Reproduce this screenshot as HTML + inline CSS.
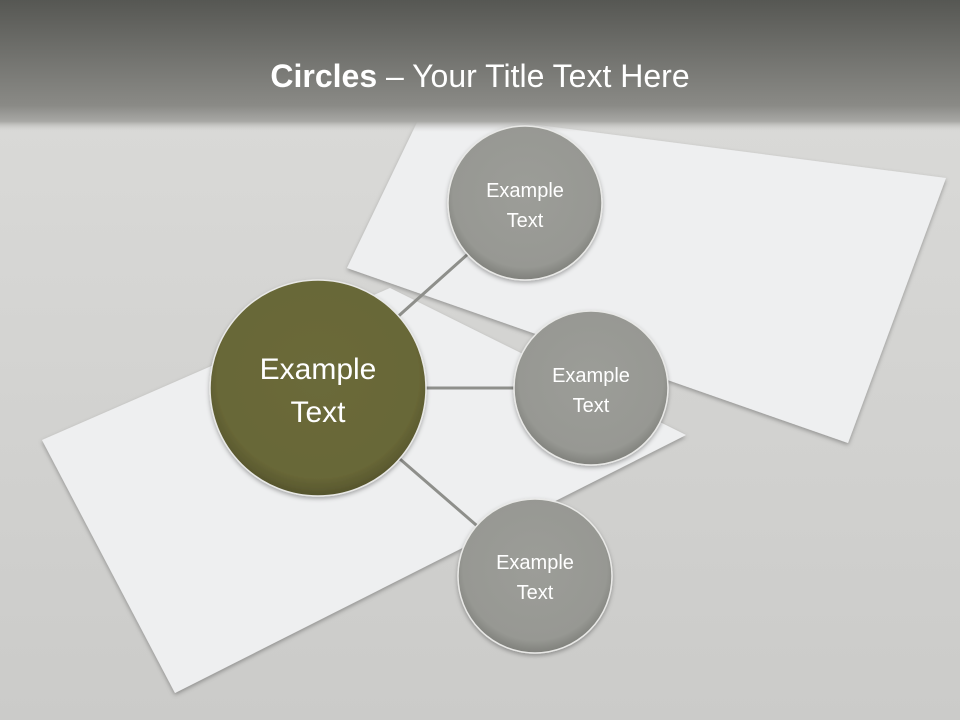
<!DOCTYPE html>
<html><head><meta charset="utf-8"><style>
html,body{margin:0;padding:0;width:960px;height:720px;overflow:hidden}
body{background:linear-gradient(#dcdcda,#cbcbc9);font-family:"Liberation Sans",sans-serif}
</style></head><body>
<svg width="960" height="720" xmlns="http://www.w3.org/2000/svg" style="position:absolute;left:0;top:0">
<defs>
<linearGradient id="hdr" x1="0" y1="0" x2="0" y2="1">
<stop offset="0" stop-color="#565753"/><stop offset="0.8" stop-color="#8a8a86"/><stop offset="0.92" stop-color="#a8a8a5"/><stop offset="1" stop-color="#d6d6d4" stop-opacity="0"/>
</linearGradient>
<radialGradient id="gr" cx="0.5" cy="0.45" r="0.55">
<stop offset="0" stop-color="#9c9d98"/><stop offset="0.85" stop-color="#979893"/><stop offset="1" stop-color="#7f807b"/>
</radialGradient>
<radialGradient id="ol" cx="0.5" cy="0.45" r="0.55">
<stop offset="0" stop-color="#6b6a3a"/><stop offset="0.85" stop-color="#686737"/><stop offset="1" stop-color="#55542c"/>
</radialGradient>
<filter id="sh" x="-20%" y="-20%" width="140%" height="140%"><feDropShadow dx="0" dy="2" stdDeviation="2" flood-color="#000" flood-opacity="0.3"/></filter>
</defs>
<polygon points="423,110 946,178 848,443 347,268" fill="#eeeff0" filter="url(#sh)"/>
<polygon points="42,440 390,288 686,435 175,693" fill="#eeeff0" filter="url(#sh)"/>
<rect x="0" y="0" width="960" height="132" fill="url(#hdr)"/>
<g stroke="#8e8f8b" stroke-width="3">
<line x1="318" y1="388" x2="525" y2="203"/>
<line x1="318" y1="388" x2="591" y2="388"/>
<line x1="318" y1="388" x2="535" y2="576"/>
</g>
<g stroke="#e8e8e6" stroke-width="1.5" filter="url(#sh)">
<circle cx="318" cy="388" r="108" fill="url(#ol)"/>
<circle cx="525" cy="203" r="77" fill="url(#gr)"/>
<circle cx="591" cy="388" r="77" fill="url(#gr)"/>
<circle cx="535" cy="576" r="77" fill="url(#gr)"/>
</g>
<g fill="#fff" text-anchor="middle" font-family="Liberation Sans, sans-serif">
<text x="480" y="87" font-size="32"><tspan font-weight="bold">Circles</tspan> – Your Title Text Here</text>
<text x="318" y="379" font-size="30">Example</text>
<text x="318" y="422" font-size="30">Text</text>
<text x="525" y="197" font-size="20">Example</text>
<text x="525" y="227" font-size="20">Text</text>
<text x="591" y="382" font-size="20">Example</text>
<text x="591" y="412" font-size="20">Text</text>
<text x="535" y="569" font-size="20">Example</text>
<text x="535" y="599" font-size="20">Text</text>
</g>
</svg>
</body></html>
